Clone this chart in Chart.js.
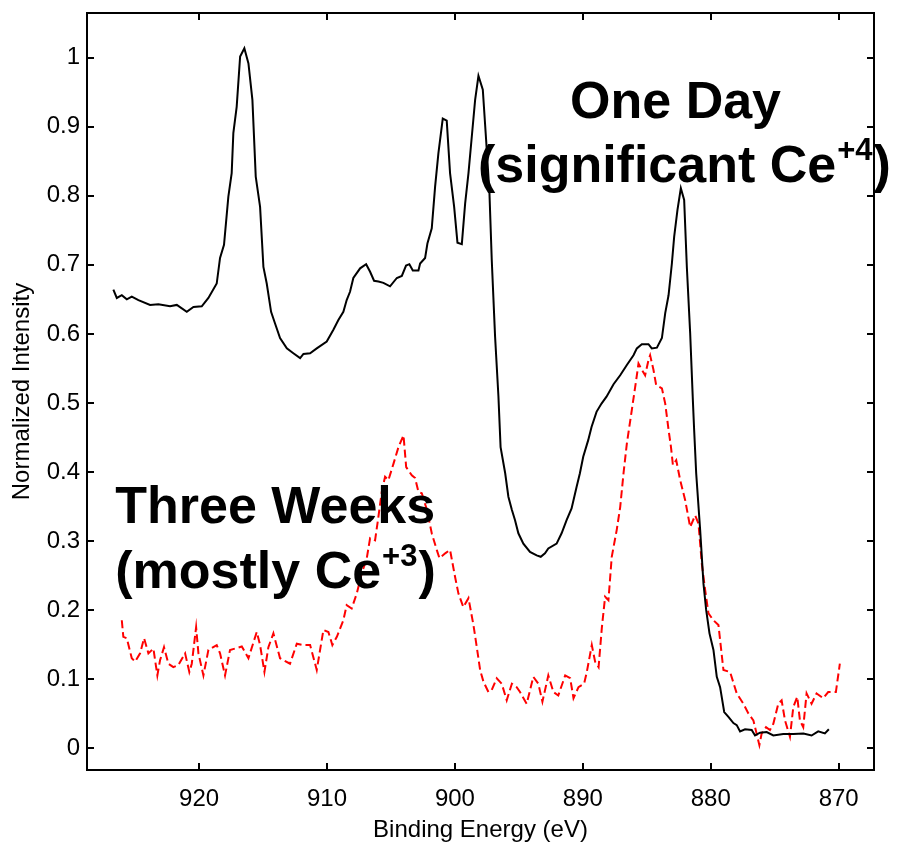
<!DOCTYPE html>
<html>
<head>
<meta charset="utf-8">
<script src="https://cdn.jsdelivr.net/npm/chart.js@4"></script>
<style>
  html, body { margin: 0; padding: 0; background: #fff; }
  canvas { display: block; }
</style>
</head>
<body>
<canvas id="xps" width="903" height="842"></canvas>
<script>
// Ce 3d XPS spectra, normalized intensity vs binding energy (eV)
const oneDayEnergy = [926.7, 926.43, 926.04, 925.65, 925.26, 924.74, 923.83, 923.18, 922.27, 921.74,
  920.96, 920.44, 919.79, 919.27, 918.62, 918.36, 918.05, 917.71, 917.45, 917.32,
  917.06, 916.79, 916.46, 916.14, 915.83, 915.57, 915.23, 914.97, 914.71, 914.37,
  914.06, 913.67, 913.14, 912.63, 912.1, 911.84, 911.32, 910.8, 910.02, 909.5,
  909.11, 908.72, 908.46, 908.2, 907.94, 907.41, 906.94, 906.63, 906.32, 905.98,
  905.59, 905.07, 904.54, 904.15, 903.82, 903.56, 903.29, 902.85, 902.72, 902.33,
  902.15, 901.81, 901.55, 901.29, 900.95, 900.64, 900.38, 900.06, 899.8, 899.46,
  899.2, 898.94, 898.68, 898.42, 898.16, 897.82, 897.56, 897.3, 897.12, 896.86,
  896.6, 896.43, 896.07, 895.82, 895.55, 895.3, 895.04, 894.65, 894.13, 893.61,
  893.29, 892.96, 892.7, 892.05, 891.66, 891.27, 890.88, 890.49, 890.23, 889.97,
  889.58, 889.32, 888.93, 888.54, 888.15, 887.6, 887.08, 886.56, 886.04, 885.78,
  885.39, 884.87, 884.61, 884.21, 883.82, 883.56, 883.3, 883.04, 882.86, 882.6,
  882.34, 882.08, 881.87, 881.61, 881.4, 881.3, 881.14, 880.83, 880.57, 880.36,
  880.1, 879.79, 879.53, 879.27, 878.95, 878.62, 878.23, 877.97, 877.71, 877.32,
  876.8, 876.54, 876.15, 875.63, 875.11, 874.33, 873.54, 872.76, 872.12, 871.6,
  871.08, 870.77];
const oneDayIntensity = [0.664, 0.652, 0.656, 0.65, 0.654, 0.649, 0.642, 0.643, 0.64, 0.642,
  0.632, 0.639, 0.64, 0.652, 0.673, 0.71, 0.729, 0.799, 0.833, 0.891,
  0.929, 1.002, 1.014, 0.992, 0.939, 0.828, 0.784, 0.697, 0.673, 0.632,
  0.615, 0.594, 0.579, 0.572, 0.565, 0.571, 0.572, 0.579, 0.589, 0.606,
  0.62, 0.632, 0.649, 0.661, 0.681, 0.695, 0.701, 0.69, 0.677, 0.676,
  0.674, 0.669, 0.681, 0.684, 0.699, 0.701, 0.692, 0.692, 0.702, 0.71,
  0.731, 0.753, 0.813, 0.862, 0.912, 0.909, 0.833, 0.784, 0.732, 0.73,
  0.789, 0.833, 0.886, 0.939, 0.974, 0.954, 0.881, 0.804, 0.707, 0.596,
  0.51, 0.436, 0.398, 0.364, 0.345, 0.33, 0.311, 0.296, 0.284, 0.279,
  0.277, 0.282, 0.289, 0.296, 0.311, 0.33, 0.347, 0.378, 0.398, 0.422,
  0.446, 0.465, 0.487, 0.499, 0.509, 0.527, 0.54, 0.555, 0.569, 0.579,
  0.585, 0.585, 0.579, 0.58, 0.594, 0.63, 0.656, 0.702, 0.741, 0.78,
  0.811, 0.794, 0.697, 0.601, 0.504, 0.461, 0.398, 0.316, 0.238, 0.2,
  0.166, 0.142, 0.103, 0.088, 0.052, 0.045, 0.036, 0.033, 0.024, 0.027,
  0.026, 0.018, 0.022, 0.023, 0.018, 0.02, 0.02, 0.021, 0.018, 0.024,
  0.021, 0.027];

const threeWeeksEnergy = [926.04, 925.92, 925.65, 925.26, 925.0, 924.61, 924.3, 923.96, 923.57, 923.26,
  923.05, 922.74, 922.4, 922.01, 921.62, 921.09, 920.76, 920.57, 920.23, 920.05,
  919.66, 919.27, 918.62, 918.36, 917.97, 917.58, 917.19, 916.66, 916.14, 915.49,
  915.23, 914.89, 914.58, 914.19, 913.67, 912.89, 912.36, 911.84, 911.32, 910.8,
  910.28, 909.89, 909.58, 909.23, 908.72, 908.46, 908.07, 907.67, 907.28, 906.89,
  906.63, 906.24, 905.98, 905.72, 905.46, 905.2, 904.8, 904.41, 904.02, 903.81,
  903.37, 903.11, 902.85, 902.59, 902.19, 901.81, 901.42, 901.21, 900.76, 900.38,
  899.99, 899.73, 899.34, 898.94, 898.55, 898.29, 898.03, 897.77, 897.38, 897.12,
  896.73, 896.34, 895.95, 895.55, 895.17, 894.91, 894.39, 893.87, 893.48, 893.16,
  892.7, 892.3, 891.92, 891.38, 890.99, 890.73, 890.34, 889.9, 889.69, 889.3,
  889.04, 888.77, 888.51, 888.26, 888.0, 887.74, 887.35, 887.08, 886.82, 886.56,
  886.17, 885.83, 885.65, 885.39, 885.13, 884.87, 884.74, 884.48, 884.27, 883.82,
  883.56, 883.3, 883.11, 882.96, 882.7, 882.39, 882.0, 881.61, 881.22, 880.96,
  880.7, 880.44, 880.18, 879.79, 879.4, 879.01, 878.49, 877.97, 877.45, 877.06,
  876.67, 876.2, 876.02, 875.68, 875.37, 875.11, 874.72, 874.46, 874.2, 873.81,
  873.55, 873.24, 873.03, 872.77, 872.51, 872.12, 871.73, 871.21, 870.82, 870.22,
  869.91];
const threeWeeksIntensity = [0.185, 0.161, 0.159, 0.13, 0.125, 0.137, 0.159, 0.137, 0.144, 0.105,
  0.127, 0.146, 0.122, 0.117, 0.12, 0.137, 0.11, 0.122, 0.175, 0.137,
  0.105, 0.142, 0.149, 0.137, 0.105, 0.142, 0.144, 0.147, 0.13, 0.168,
  0.149, 0.11, 0.146, 0.166, 0.13, 0.122, 0.151, 0.149, 0.149, 0.113,
  0.171, 0.168, 0.149, 0.161, 0.185, 0.207, 0.202, 0.224, 0.253, 0.275,
  0.304, 0.301, 0.335, 0.371, 0.393, 0.388, 0.412, 0.436, 0.453, 0.407,
  0.395, 0.391, 0.371, 0.369, 0.345, 0.311, 0.287, 0.275, 0.282, 0.287,
  0.248, 0.224, 0.204, 0.217, 0.178, 0.146, 0.113, 0.096, 0.081, 0.084,
  0.101, 0.093, 0.069, 0.093, 0.088, 0.081, 0.064, 0.103, 0.093, 0.067,
  0.105, 0.081, 0.076, 0.105, 0.101, 0.072, 0.088, 0.093, 0.11, 0.149,
  0.125, 0.117, 0.175, 0.219, 0.214, 0.277, 0.316, 0.349, 0.398, 0.441,
  0.49, 0.533, 0.557, 0.548, 0.54, 0.562, 0.569, 0.548, 0.526, 0.521,
  0.499, 0.461, 0.436, 0.41, 0.417, 0.388, 0.359, 0.32, 0.337, 0.325,
  0.267, 0.229, 0.195, 0.185, 0.178, 0.113, 0.11, 0.079, 0.064, 0.05,
  0.04, 0.004, 0.021, 0.03, 0.026, 0.035, 0.064, 0.069, 0.04, 0.016,
  0.059, 0.074, 0.04, 0.03, 0.079, 0.064, 0.079, 0.072, 0.081, 0.081,
  0.122];

const xTicks = [920, 910, 900, 890, 880, 870];
const yTicks = [0, 0.1, 0.2, 0.3, 0.4, 0.5, 0.6, 0.7, 0.8, 0.9, 1];

// text labels placed in data coordinates (left edge, baseline)
const notes = [
  { x: 891.0, y: 0.913, text: 'One Day' },
  { x: 898.2, y: 0.820, text: '(significant Ce', sup: '+4', tail: ')' },
  { x: 926.55, y: 0.326, text: 'Three Weeks' },
  { x: 926.55, y: 0.232, text: '(mostly Ce', sup: '+3', tail: ')' }
];

const FONT = 'Liberation Sans, Arial, Helvetica, sans-serif';

function toPoints(xs, ys) {
  return xs.map((x, i) => ({ x: x, y: ys[i] }));
}

function noPad(s) {
  s.paddingTop = 0; s.paddingBottom = 0; s.paddingLeft = 0; s.paddingRight = 0;
}

// MATLAB-ish box with inward ticks on all four sides
const axesBox = {
  id: 'axesBox',
  afterDatasetsDraw(chart) {
    const { ctx, chartArea: a, scales } = chart;
    const tl = 7;
    ctx.save();
    ctx.strokeStyle = '#000';
    ctx.lineWidth = 2;
    ctx.strokeRect(a.left, a.top, a.right - a.left, a.bottom - a.top);
    ctx.beginPath();
    xTicks.forEach(v => {
      const px = Math.round(scales.x.getPixelForValue(v));
      ctx.moveTo(px, a.bottom); ctx.lineTo(px, a.bottom - tl);
      ctx.moveTo(px, a.top); ctx.lineTo(px, a.top + tl);
    });
    yTicks.forEach(v => {
      const py = Math.round(scales.y.getPixelForValue(v));
      ctx.moveTo(a.left, py); ctx.lineTo(a.left + tl, py);
      ctx.moveTo(a.right, py); ctx.lineTo(a.right - tl, py);
    });
    ctx.stroke();
    ctx.restore();
  },
  afterDraw(chart) {
    const { ctx, scales } = chart;
    ctx.save();
    ctx.fillStyle = '#000';
    ctx.textBaseline = 'alphabetic';
    ctx.textAlign = 'left';
    notes.forEach(n => {
      let x = scales.x.getPixelForValue(n.x);
      const y = scales.y.getPixelForValue(n.y);
      ctx.font = 'bold 52px ' + FONT;
      ctx.fillText(n.text, x, y);
      x += ctx.measureText(n.text).width;
      if (n.sup) {
        ctx.font = 'bold 31px ' + FONT;
        ctx.fillText(n.sup, x + 1, y - 22);
        x += ctx.measureText(n.sup).width + 2;
        ctx.font = 'bold 52px ' + FONT;
        ctx.fillText(n.tail, x, y);
      }
    });
    ctx.restore();
  }
};

new Chart(document.getElementById('xps'), {
  type: 'line',
  data: {
    datasets: [
      {
        label: 'One Day',
        data: toPoints(oneDayEnergy, oneDayIntensity),
        borderColor: '#000',
        borderWidth: 2,
        pointRadius: 0,
        tension: 0
      },
      {
        label: 'Three Weeks',
        data: toPoints(threeWeeksEnergy, threeWeeksIntensity),
        borderColor: '#ff0000',
        borderWidth: 2,
        borderDash: [8, 4],
        pointRadius: 0,
        tension: 0
      }
    ]
  },
  options: {
    responsive: false,
    animation: false,
    devicePixelRatio: 1,
    layout: { padding: { left: 0, right: 29, top: 13, bottom: 0 } },
    plugins: { legend: { display: false }, tooltip: { enabled: false } },
    scales: {
      x: {
        type: 'linear',
        reverse: true,
        min: 867.24,
        max: 928.76,
        afterFit(s) { s.height = 72; noPad(s); },
        afterBuildTicks(s) { s.ticks = xTicks.map(v => ({ value: v })); },
        grid: { display: false, drawTicks: false },
        border: { display: false },
        ticks: { color: '#000', padding: 15, maxRotation: 0, font: { family: FONT, size: 24 }, callback: v => String(v) },
        title: { display: true, text: 'Binding Energy (eV)', color: '#000', padding: 0, font: { family: FONT, size: 24, lineHeight: 1 } }
      },
      y: {
        type: 'linear',
        min: -0.032,
        max: 1.065,
        afterFit(s) { s.width = 87; noPad(s); },
        afterBuildTicks(s) { s.ticks = yTicks.map(v => ({ value: v })); },
        grid: { display: false, drawTicks: false },
        border: { display: false },
        ticks: { color: '#000', padding: 7, font: { family: FONT, size: 24 }, callback: v => String(+v.toFixed(1)) },
        title: { display: true, text: 'Normalized Intensity', color: '#000', padding: { top: 10 }, font: { family: FONT, size: 24, lineHeight: 1 } }
      }
    }
  },
  plugins: [axesBox]
});
</script>
</body>
</html>
